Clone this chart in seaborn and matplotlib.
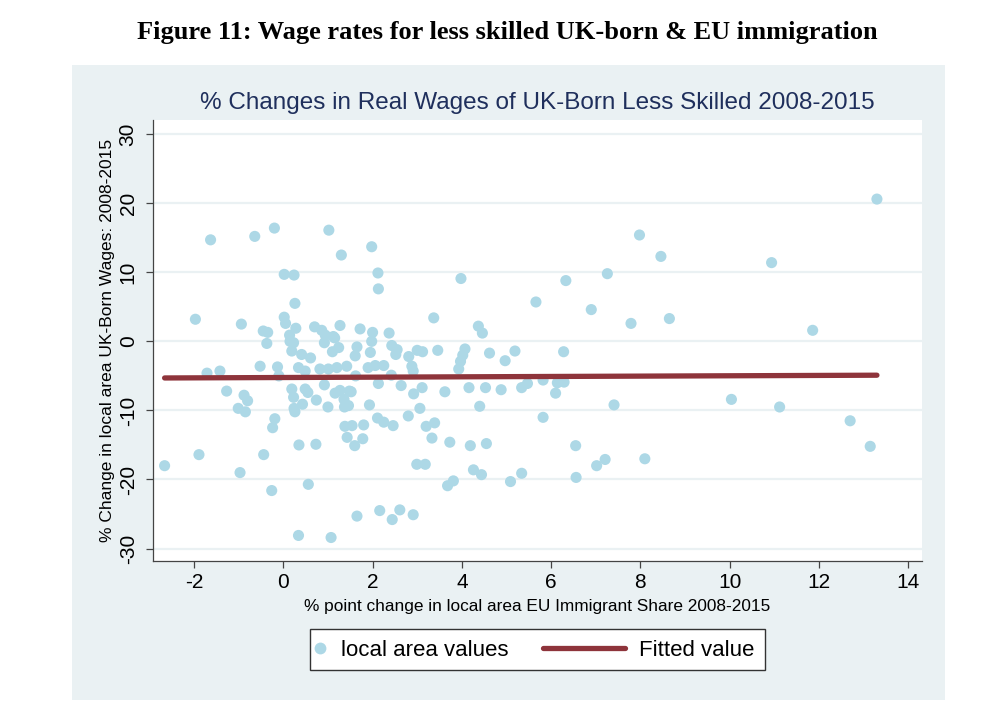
import numpy as np
import pandas as pd
import seaborn as sns
import matplotlib.pyplot as plt
from matplotlib.patches import Rectangle
from matplotlib.lines import Line2D

# Data: % point change in EU immigrant share vs % change in real wages
eu_share = [
    -1.63, -0.64, -0.20, 1.02, 1.30, 1.98, 2.12, 2.13, 0.02, 0.24,
    0.26, 3.98, 3.37, 5.66, 7.98, 8.46, 10.94, 13.30, 6.33, 7.26,
    6.90, 7.79, 8.65, 11.86, -1.97, -0.94, 0.02, 0.05, -0.45, -0.35,
    0.28, 0.70, 0.86, 1.27, 1.72, 0.14, 1.12, 0.94, 2.00, 2.37,
    4.37, 4.46, 0.15, 0.23, -0.37, 0.92, 1.24, 1.10, 1.15, 1.65,
    1.98, 1.61, 1.95, 2.43, 2.55, 2.52, 2.81, 3.00, 3.12, 3.46,
    4.07, 4.02, 3.97, 3.93, 4.62, 4.97, 5.19, 6.28, 0.19, 0.41,
    0.61, 0.34, -0.52, -0.13, -0.10, 0.49, 0.82, 1.01, 1.20, 1.42,
    1.62, 1.90, 2.06, 2.25, 2.88, 2.91, 2.42, -1.71, -1.42, -1.27,
    -0.88, -0.80, -1.01, -0.85, -0.24, -0.19, 0.26, 0.24, 0.43, 0.23,
    0.19, 0.49, 0.55, 0.74, 1.00, 1.16, 1.36, 1.37, 1.48, 0.92,
    1.27, 2.13, 2.64, 3.11, 2.92, 3.62, 4.16, 4.53, 4.88, 5.34,
    5.47, 5.82, 6.14, 6.29, 6.10, 7.41, 5.82, 1.52, 1.93, 1.46,
    1.54, 1.60, 1.78, 1.80, 2.11, 2.25, 2.46, 2.80, 3.06, 3.20,
    3.39, 3.33, 3.73, 4.19, 4.55, 4.40, 1.43, 1.38, 2.99, 3.18,
    3.68, 3.81, 4.26, 4.44, 5.09, 5.34, 1.65, 2.16, 2.44, 2.61,
    2.91, 0.34, 1.07, 0.56, 0.35, 0.73, -0.26, -0.44, -0.97, -1.89,
    -2.66, 6.55, 6.56, 7.02, 7.21, 8.10, 10.04, 11.12, 12.70, 13.15,
]
wage_change = [
    14.7, 15.2, 16.4, 16.1, 12.5, 13.7, 9.9, 7.6, 9.7, 9.6,
    5.5, 9.1, 3.4, 5.7, 15.4, 12.3, 11.4, 20.6, 8.8, 9.8,
    4.6, 2.6, 3.3, 1.6, 3.2, 2.5, 3.5, 2.6, 1.5, 1.3,
    1.9, 2.1, 1.6, 2.3, 1.8, 0.9, 0.7, 0.9, 1.3, 1.2,
    2.2, 1.2, 0.0, -0.2, -0.3, -0.2, -0.9, -1.5, 0.5, -0.8,
    0.0, -2.1, -1.6, -0.6, -1.2, -1.9, -2.2, -1.3, -1.5, -1.3,
    -1.1, -2.0, -2.9, -4.0, -1.7, -2.8, -1.4, -1.5, -1.4, -1.9,
    -2.4, -3.8, -3.6, -3.7, -5.0, -4.3, -4.0, -4.0, -3.8, -3.6,
    -5.0, -3.8, -3.5, -3.5, -3.6, -4.3, -4.9, -4.6, -4.3, -7.2,
    -7.8, -8.6, -9.7, -10.2, -12.5, -11.2, -10.2, -9.7, -9.1, -8.1,
    -6.9, -6.9, -7.4, -8.5, -9.5, -7.5, -8.4, -9.5, -7.2, -6.3,
    -7.1, -6.1, -6.4, -6.7, -7.6, -7.3, -6.7, -6.7, -7.0, -6.7,
    -6.1, -5.6, -6.0, -5.9, -7.5, -9.2, -11.0, -7.3, -9.2, -9.3,
    -12.2, -15.1, -14.1, -12.1, -11.1, -11.7, -12.2, -10.8, -9.7, -12.3,
    -11.8, -14.0, -14.6, -15.1, -14.8, -9.4, -13.9, -12.3, -17.8, -17.8,
    -20.9, -20.2, -18.6, -19.3, -20.3, -19.1, -25.3, -24.5, -25.8, -24.4,
    -25.1, -28.1, -28.4, -20.7, -15.0, -14.9, -21.6, -16.4, -19.0, -16.4,
    -18.0, -15.1, -19.7, -18.0, -17.1, -17.0, -8.4, -9.5, -11.5, -15.2,
]

# fitted line end points as drawn
fit_x = [-2.66, 13.30]
fit_y = [-5.3, -4.9]

x_ticks = [-2, 0, 2, 4, 6, 8, 10, 12, 14]
y_ticks = [-30, -20, -10, 0, 10, 20, 30]

df = pd.DataFrame({'eu': eu_share, 'wage': wage_change})
fit = pd.DataFrame({'eu': fit_x, 'wage': fit_y})

sns.set_style("white")
plt.rcParams['font.family'] = ['Liberation Sans', 'DejaVu Sans']
plt.rcParams['axes.unicode_minus'] = False
plt.rcParams['text.color'] = 'black'
plt.rcParams['axes.labelcolor'] = 'black'

bg = '#EAF1F3'
dot_col = '#ADD8E6'
line_col = '#8E343B'

fig = plt.figure(figsize=(10, 7.18), dpi=100)
fig.patches.append(Rectangle((0.072, 1 - 700/718), 0.873, 635/718,
                             transform=fig.transFigure, facecolor=bg,
                             edgecolor='none', zorder=-2))

ax = fig.add_axes([0.153, 1 - 561/718, 0.769, 441/718])
ax.set_zorder(2)
ax.set_facecolor('white')

sns.scatterplot(data=df, x='eu', y='wage', ax=ax, color=dot_col, s=64,
                linewidth=0, edgecolor='none', zorder=3, legend=False)
sns.lineplot(data=fit, x='eu', y='wage', ax=ax, color=line_col, lw=3.8,
             zorder=4, legend=False, solid_capstyle='round')

ax.set_xlim(-2.92, 14.31)
ax.set_ylim(-31.8, 32.05)
ax.set_xticks(x_ticks)
ax.set_yticks(y_ticks)
ax.yaxis.grid(True, color=bg, lw=1.6)
ax.xaxis.grid(False)
ax.set_axisbelow(True)

for s in ['top', 'right']:
    ax.spines[s].set_visible(False)
for s in ['left', 'bottom']:
    ax.spines[s].set_color('#444444')
    ax.spines[s].set_linewidth(0.9)

ax.tick_params(axis='both', which='major', length=5, width=0.9, color='#444444',
               labelsize=15, labelcolor='black', direction='out', left=True, bottom=True)
ax.tick_params(axis='y', pad=6)
ax.tick_params(axis='x', pad=4)
for lbl in ax.get_yticklabels():
    lbl.set_rotation(90)
    lbl.set_va('center')

ax.set_xlabel('% point change in local area EU Immigrant Share 2008-2015', fontsize=12.4, labelpad=5)
ax.set_ylabel('% Change in local area UK-Born Wages: 2008-2015', fontsize=12.5, labelpad=3)

fig.text(0.5375, 1 - 103/718, '% Changes in Real Wages of UK-Born Less Skilled 2008-2015',
         ha='center', va='center', fontsize=17.5, color='#1F2F5C')
fig.text(0.507, 1 - 33/718, 'Figure 11: Wage rates for less skilled UK-born & EU immigration',
         ha='center', va='center', fontsize=19, fontweight='bold', color='black',
         family=['Liberation Serif', 'DejaVu Serif'])

# legend box drawn like Stata's: one frame, two entries
fig.patches.append(Rectangle((0.310, 1 - 670/718), 0.455, 41/718,
                             transform=fig.transFigure, facecolor='white',
                             edgecolor='#333333', lw=1.0, zorder=1))
dot_h = Line2D([], [], marker='o', ls='', color=dot_col, markersize=8.5, markeredgewidth=0)
line_h = Line2D([], [], color=line_col, lw=3.8)
leg1 = ax.legend([dot_h], ['local area values'], loc='center left',
                 bbox_to_anchor=(0.312, 1 - 650/718), bbox_transform=fig.transFigure,
                 frameon=False, fontsize=16, handlelength=0.75, handletextpad=0.55,
                 borderpad=0, borderaxespad=0, labelcolor='black')
ax.add_artist(leg1)
ax.legend([line_h], ['Fitted value'], loc='center left',
          bbox_to_anchor=(0.543, 1 - 650/718), bbox_transform=fig.transFigure,
          frameon=False, fontsize=16, handlelength=3.7, handletextpad=0.6,
          borderpad=0, borderaxespad=0, labelcolor='black')

plt.savefig('out.png', dpi=100)
